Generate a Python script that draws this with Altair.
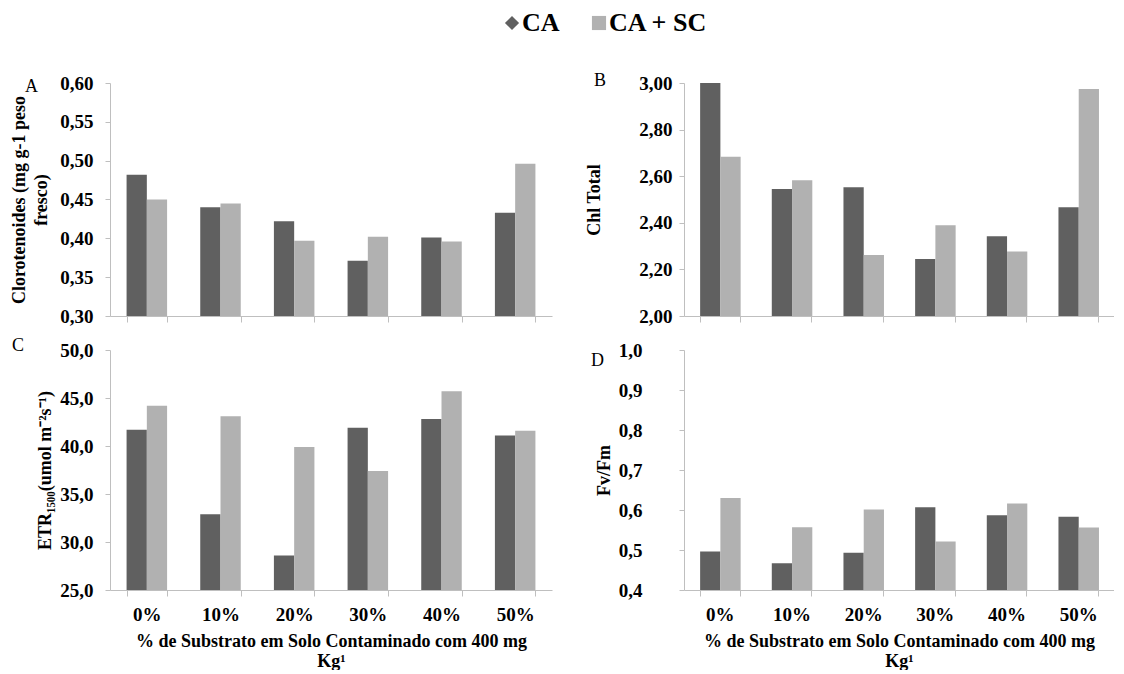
import altair as alt
import pandas as pd

FONT = "Liberation Serif"

categories = ["0%", "10%", "20%", "30%", "40%", "50%"]
series = ["CA", "CA + SC"]

carot_ca = [0.482, 0.440, 0.422, 0.371, 0.401, 0.433]
carot_sc = [0.450, 0.445, 0.397, 0.402, 0.396, 0.496]
chl_ca = [3.00, 2.545, 2.553, 2.245, 2.342, 2.467]
chl_sc = [2.683, 2.583, 2.262, 2.390, 2.277, 2.974]
etr_ca = [41.7, 32.9, 28.6, 41.9, 42.8, 41.1]
etr_sc = [44.2, 43.1, 39.9, 37.4, 45.7, 41.6]
fv_ca = [0.496, 0.467, 0.493, 0.607, 0.587, 0.583]
fv_sc = [0.630, 0.557, 0.601, 0.521, 0.616, 0.556]

ticks_a = [0.30, 0.35, 0.40, 0.45, 0.50, 0.55, 0.60]
ticks_b = [2.00, 2.20, 2.40, 2.60, 2.80, 3.00]
ticks_c = [25.0, 30.0, 35.0, 40.0, 45.0, 50.0]
ticks_d = [0.4, 0.5, 0.6, 0.7, 0.8, 0.9, 1.0]

x_title = ["% de Substrato em Solo Contaminado com 400 mg", "Kg¹"]

color_scale = alt.Scale(domain=series, range=["#606060", "#b1b1b1"])


def frame(ca, sc):
    return pd.DataFrame({
        "cat": categories * 2,
        "series": [series[0]] * len(categories) + [series[1]] * len(categories),
        "value": ca + sc,
    })


def panel(df, ticks, decimals, ytitle, letter, ldx, ldy, width, height,
          show_x, label_pad, title_pad):
    x = alt.X(
        "cat:N", sort=categories,
        scale=alt.Scale(paddingInner=0.45, paddingOuter=0.225),
        axis=alt.Axis(
            title=x_title if show_x else None,
            labels=show_x, labelAngle=0, tickBand="extent",
            domainColor="#bfbfbf", tickColor="#bfbfbf", tickSize=6,
            labelFont=FONT, labelFontSize=19, labelFontWeight="bold",
            labelColor="black", labelPadding=9,
            titleFont=FONT, titleFontSize=18, titleFontWeight="bold",
            titleColor="black", titlePadding=8, titleLineHeight=20,
        ),
    )
    y = alt.Y(
        "value:Q",
        scale=alt.Scale(domain=[ticks[0], ticks[-1]], zero=False, nice=False),
        axis=alt.Axis(
            values=ticks, grid=False,
            labelExpr=f"replace(format(datum.value, '.{decimals}f'), '.', ',')",
            domainColor="#bfbfbf", tickColor="#bfbfbf", tickSize=5,
            labelFont=FONT, labelFontSize=19, labelFontWeight="bold",
            labelColor="black", labelPadding=label_pad,
            title=ytitle, titleFont=FONT, titleFontSize=18,
            titleFontWeight="bold", titleColor="black",
            titlePadding=title_pad, titleLineHeight=22,
        ),
    )
    bars = alt.Chart(df).mark_bar(clip=True).encode(
        x=x,
        xOffset=alt.XOffset("series:N", sort=series),
        y=y,
        color=alt.Color("series:N", scale=color_scale, legend=None),
    )
    return bars.properties(
        width=width, height=height,
        title=alt.TitleParams(
            text=letter, anchor="start", frame="group", orient="top",
            offset=0, baseline="top", dx=ldx, dy=ldy, font=FONT,
            fontSize=18, fontWeight="normal", color="black",
        ),
    )


pa = panel(frame(carot_ca, carot_sc), ticks_a, 2,
           ["Clorotenoides (mg g-1 peso", "fresco)"], "A", -85, 22,
           442, 233, False, 12, 9)
pb = panel(frame(chl_ca, chl_sc), ticks_b, 2, "Chl Total", "B", -90, 16,
           430, 233, False, 7, 35)
pc = panel(frame(etr_ca, etr_sc), ticks_c, 1, "ETR₁₅₀₀(umol m⁻²s⁻¹)", "C",
           -98, 14, 442, 240, True, 12, 5)
pd_ = panel(frame(fv_ca, fv_sc), ticks_d, 1, "Fv/Fm", "D", -93, 29,
            430, 240, True, 37, 5)

grid = alt.concat(
    pa, pb, pc, pd_, columns=2, bounds="flush",
    spacing={"row": 34, "column": 132},
).resolve_scale(color="shared", x="independent", y="independent")

# custom legend row (diamond for CA, square for CA + SC)
leg_df = pd.DataFrame({"series": series})
leg_x = alt.X("series:N", sort=series,
              scale=alt.Scale(domain=series, range=[402, 489], padding=0),
              axis=None)
leg_points = alt.Chart(leg_df).mark_point(filled=True, opacity=1, size=200).encode(
    x=leg_x,
    color=alt.Color("series:N", scale=color_scale, legend=None),
    shape=alt.Shape("series:N",
                    scale=alt.Scale(domain=series, range=["diamond", "square"]),
                    legend=None),
)
leg_text = alt.Chart(leg_df).mark_text(
    align="left", baseline="middle", dx=10, font=FONT, fontSize=26,
    fontWeight="bold", color="black",
).encode(x=leg_x, text="series:N")
legend_row = alt.layer(leg_points, leg_text).properties(width=1004, height=24)

chart = alt.vconcat(
    legend_row, grid, bounds="flush", spacing=48,
).resolve_scale(
    color="shared", shape="independent", x="independent", y="independent"
).properties(
    padding={"left": 2, "top": 2, "right": 0, "bottom": 0}
).configure_view(
    stroke=None
)

chart.save("out.html", embed_options={"renderer": "svg", "actions": False})
